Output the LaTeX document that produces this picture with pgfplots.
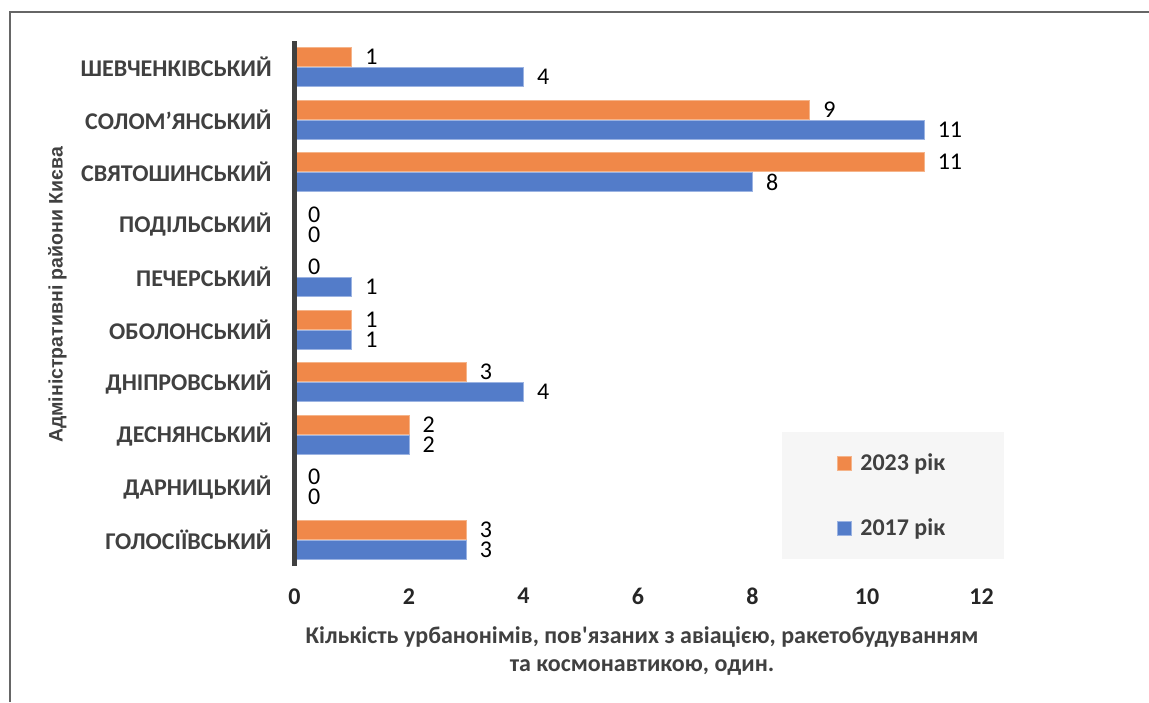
\documentclass[border=0pt]{standalone}
\usepackage{pgfplots}
\pgfplotsset{compat=1.18}
\usepackage{fontspec}
\setmainfont{Carlito}
\newfontfamily\arialf{Liberation Sans}
\definecolor{orangebar}{HTML}{F08849}
\definecolor{bluebar}{HTML}{537CC9}
\definecolor{orangeedge}{HTML}{F5B48A}
\definecolor{blueedge}{HTML}{9BB3E2}
\definecolor{textgray}{HTML}{404040}
\definecolor{tickgray}{HTML}{262626}
\definecolor{axisgray}{HTML}{404040}
\definecolor{framegray}{HTML}{666666}
\definecolor{legbg}{HTML}{F6F6F6}
\newcommand{\mainsize}{\fontsize{12}{14}\selectfont}
\begin{document}
\begin{tikzpicture}
\useasboundingbox (0,0) rectangle (574.5pt,351pt);
\draw[color=framegray, line width=1pt] (5pt,0pt) -- (5pt,345pt) -- (574.5pt,345pt);
\begin{axis}[
  at={(147.25pt,68pt)}, anchor=south west,
  scale only axis, width=343.5pt, height=262.5pt,
  xmin=0, xmax=12, ymin=-0.5, ymax=9.5,
  clip=false,
  xbar, bar width=9.5pt,
  axis line style={draw=none},
  major tick length=0pt,
  /pgf/number format/assume math mode=true,
  xtick={0,2,...,12},
  ytick={0,...,9},
  yticklabels={ГОЛОСІЇВСЬКИЙ,ДАРНИЦЬКИЙ,ДЕСНЯНСЬКИЙ,ДНІПРОВСЬКИЙ,ОБОЛОНСЬКИЙ,ПЕЧЕРСЬКИЙ,ПОДІЛЬСЬКИЙ,СВЯТОШИНСЬКИЙ,СОЛОМ’ЯНСЬКИЙ,ШЕВЧЕНКІВСЬКИЙ},
  xticklabel style={anchor=north, inner sep=0pt, yshift=-11pt, font=\bfseries\mainsize, text=tickgray},
  yticklabel style={anchor=east, inner sep=0pt, xshift=-11.25pt, font=\bfseries\mainsize, text=textgray},
  xlabel={Кількість урбанонімів, пов\textquotesingle язаних з авіацією, ракетобудуванням\\та космонавтикою, один.},
  xlabel style={at={(axis description cs:0.5,0)}, anchor=north, inner sep=0pt, yshift=-30pt, xshift=2pt, align=center, font=\bfseries\mainsize, text=textgray},
  nodes near coords,
  every node near coord/.append style={font=\mainsize, text=black, anchor=west, inner sep=0pt, xshift=6.5pt},
  legend image code/.code={\fill[#1] (0pt,-3.5pt) rectangle (7pt,3.5pt);},
  legend cell align=left,
  legend style={at={(axis cs:8.515,2.052)}, anchor=north west, fill=legbg, draw=none,
    inner xsep=27.5pt, inner ysep=8.5pt, row sep=18.5pt,
    /tikz/every odd column/.append style={column sep=2pt},
    font=\bfseries\mainsize, text=textgray},
]
\addplot[fill=orangebar, draw=orangeedge, line width=0.5pt, bar shift=5pt]
  coordinates {(3,0) (0,1) (2,2) (3,3) (1,4) (0,5) (0,6) (11,7) (9,8) (1,9)};
\addlegendentry{2023 рік}
\addplot[fill=bluebar, draw=blueedge, line width=0.5pt, bar shift=-5pt]
  coordinates {(3,0) (0,1) (2,2) (4,3) (1,4) (1,5) (0,6) (8,7) (11,8) (4,9)};
\addlegendentry{2017 рік}
\draw[line width=2.25pt, color=axisgray] (axis cs:0,-0.5) -- (axis cs:0,9.5);
\end{axis}
\node[rotate=90, font=\arialf\bfseries\fontsize{9.75}{12}\selectfont, text=textgray] at (28.75pt,203.5pt) {Адміністративні райони Києва};
\end{tikzpicture}
\end{document}
